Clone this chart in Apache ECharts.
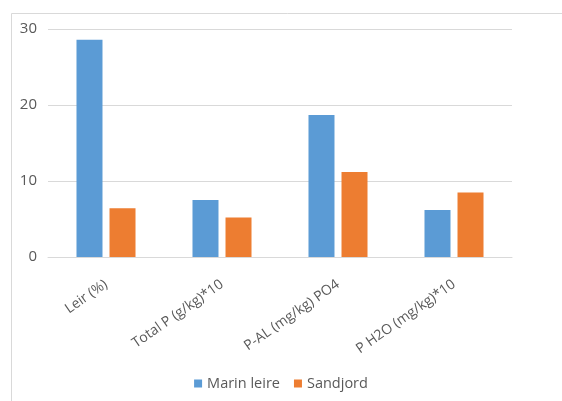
<!DOCTYPE html>
<html>
<head>
<meta charset="utf-8">
<script src="https://cdn.jsdelivr.net/npm/echarts@6/dist/echarts.min.js"></script>
<style>
  html, body { margin: 0; padding: 0; background: #fff; }
  #chart { width: 562px; height: 401px; }
</style>
</head>
<body>
<div id="chart"></div>
<script>
// Soil measurements per parameter for two soil types
const categories = ['Leir (%)', 'Total P (g/kg)*10', 'P-AL (mg/kg) PO4', 'P H2O (mg/kg)*10'];
const marinLeire = [28.6, 7.5, 18.7, 6.2];
const sandjord = [6.4, 5.2, 11.2, 8.5];
const yTicks = { min: 0, max: 30, interval: 10 };

const chart = echarts.init(document.getElementById('chart'));
const fontFamily = '"Open Sans", "Liberation Sans", sans-serif';

chart.setOption({
  animation: false,
  backgroundColor: '#fff',
  graphic: [{
    type: 'rect',
    left: 9, top: 11,
    shape: { width: 560, height: 420 },
    style: { fill: 'none', stroke: '#d9d9d9', lineWidth: 1 },
    silent: true
  }],
  grid: { left: 48, right: 50, top: 29, bottom: 144, containLabel: false },
  legend: {
    bottom: 5,
    left: 'center',
    itemWidth: 8, itemHeight: 8,
    itemGap: 14,
    icon: 'rect',
    textStyle: { color: '#595959', fontSize: 14.5, fontFamily: fontFamily },
    data: ['Marin leire', 'Sandjord']
  },
  xAxis: {
    type: 'category',
    data: categories,
    axisLine: { show: true, lineStyle: { color: '#d9d9d9' } },
    axisTick: { show: false },
    axisLabel: {
      rotate: 35,
      margin: 26,
      color: '#595959',
      fontSize: 14,
      fontFamily: fontFamily,
      interval: 0
    }
  },
  yAxis: {
    type: 'value',
    min: yTicks.min, max: yTicks.max, interval: yTicks.interval,
    axisLine: { show: false },
    axisTick: { show: false },
    splitLine: { lineStyle: { color: '#d9d9d9' } },
    axisLabel: { color: '#595959', fontSize: 15, fontFamily: fontFamily, margin: 11 }
  },
  series: [
    {
      name: 'Marin leire', type: 'bar', data: marinLeire,
      itemStyle: { color: '#5b9bd5' },
      barWidth: 26, barGap: '27%'
    },
    {
      name: 'Sandjord', type: 'bar', data: sandjord,
      itemStyle: { color: '#ed7d31' },
      barWidth: 26, barGap: '27%'
    }
  ]
});
</script>
</body>
</html>
